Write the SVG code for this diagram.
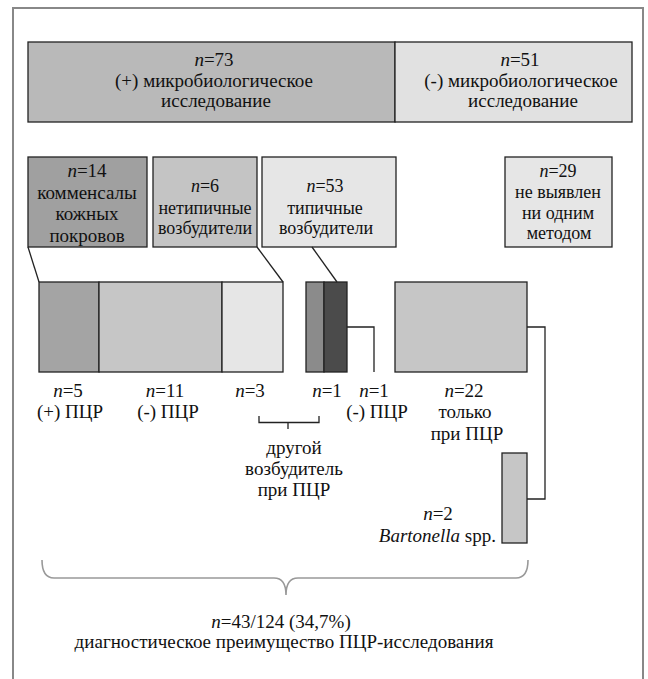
<svg xmlns="http://www.w3.org/2000/svg" width="648" height="679" viewBox="0 0 648 679">
<style>
text{font-family:"Liberation Serif","Times New Roman",serif;font-size:19px;fill:#111;text-anchor:middle}
.s{font-size:18px}
.i{font-style:italic}
.b{stroke:#222;stroke-width:1.3}
.c{fill:none;stroke:#222;stroke-width:1.3}
.br{fill:none;stroke:#999;stroke-width:1.6}
</style>
<rect width="648" height="679" fill="#fff"/>
<path d="M13,679 V8 H643 V679" fill="none" stroke="#888" stroke-width="2"/>

<g id="pos-micro">
<rect class="b" x="28" y="42" width="367" height="80" fill="#b9b9b9"/>
<text x="214" y="66"><tspan class="i">n</tspan>=73</text>
<text x="214" y="87">(+) микробиологическое</text>
<text x="216" y="107">исследование</text>
</g>
<g id="neg-micro">
<rect class="b" x="395" y="42" width="237" height="80" fill="#e1e1e1"/>
<text x="520" y="66"><tspan class="i">n</tspan>=51</text>
<text x="521" y="87">(-) микробиологическое</text>
<text x="523" y="107">исследование</text>
</g>

<g id="commensals">
<rect class="b" x="28" y="157" width="119" height="90" fill="#a0a0a0"/>
<text x="87" y="177"><tspan class="i">n</tspan>=14</text>
<text x="87" y="199">комменсалы</text>
<text x="87" y="220">кожных</text>
<text x="87" y="242">покровов</text>
</g>
<g id="atypical">
<rect class="b" x="153" y="157" width="104" height="90" fill="#c4c4c4"/>
<text class="s" x="205" y="192"><tspan class="i">n</tspan>=6</text>
<text class="s" x="205" y="214">нетипичные</text>
<text class="s" x="205" y="234">возбудители</text>
</g>
<g id="typical">
<rect class="b" x="262" y="157" width="134" height="90" fill="#e6e6e6"/>
<text class="s" x="325" y="192"><tspan class="i">n</tspan>=53</text>
<text class="s" x="325" y="214">типичные</text>
<text class="s" x="326" y="234">возбудители</text>
</g>
<g id="not-found">
<rect class="b" x="505" y="157" width="107" height="90" fill="#e6e6e6"/>
<text class="s" x="558" y="177"><tspan class="i">n</tspan>=29</text>
<text class="s" x="558" y="198">не выявлен</text>
<text class="s" x="558" y="219">ни одним</text>
<text class="s" x="559" y="239">методом</text>
</g>

<g id="bar-commensal-atypical">
<rect class="b" x="39" y="282" width="60" height="90" fill="#a4a4a4"/>
<rect class="b" x="99" y="282" width="123" height="90" fill="#c6c6c6"/>
<rect class="b" x="222" y="282" width="61" height="90" fill="#e6e6e6"/>
</g>
<g id="bar-typical">
<rect class="b" x="306" y="282" width="18" height="90" fill="#8b8b8b"/>
<rect class="b" x="324" y="282" width="23" height="90" fill="#4b4b4b"/>
</g>
<g id="bar-pcr-only">
<rect class="b" x="395" y="282" width="132" height="90" fill="#c6c6c6"/>
</g>
<g id="bar-bartonella">
<rect class="b" x="502" y="453" width="25" height="90" fill="#c6c6c6"/>
</g>

<g id="connectors">
<line class="c" x1="28" y1="247" x2="39" y2="282"/>
<line class="c" x1="257" y1="247" x2="283" y2="282"/>
<line class="c" x1="312" y1="247" x2="337" y2="282"/>
<polyline class="c" points="347,327 374,327 374,372"/>
<polyline class="c" points="527,327 545,327 545,499 527,499"/>
<path class="c" d="M259,416 V422.5 H319 V416 M288,422.5 V429"/>
<path class="br" d="M42,560 Q42,578 54,578 H274 Q286,578 286,595 Q286,578 298,578 H516 Q528,578 528,560"/>
</g>

<g id="labels">
<text x="68" y="397"><tspan class="i">n</tspan>=5</text>
<text x="70" y="418">(+) ПЦР</text>
<text x="165" y="397"><tspan class="i">n</tspan>=11</text>
<text x="168" y="418">(-) ПЦР</text>
<text x="250" y="397"><tspan class="i">n</tspan>=3</text>
<text x="327" y="397"><tspan class="i">n</tspan>=1</text>
<text x="374" y="397"><tspan class="i">n</tspan>=1</text>
<text x="377" y="418">(-) ПЦР</text>
<text x="464" y="397"><tspan class="i">n</tspan>=22</text>
<text x="465" y="418">только</text>
<text x="467" y="440">при ПЦР</text>
<text x="294" y="454">другой</text>
<text x="294" y="475">возбудитель</text>
<text x="294" y="496">при ПЦР</text>
<text x="438" y="520"><tspan class="i">n</tspan>=2</text>
<text x="496" y="542" style="text-anchor:end"><tspan class="i">Bartonella</tspan> spp.</text>
<text x="281" y="628"><tspan class="i">n</tspan>=43/124 (34,7%)</text>
<text x="284" y="648">диагностическое преимущество ПЦР-исследования</text>
</g>
</svg>
